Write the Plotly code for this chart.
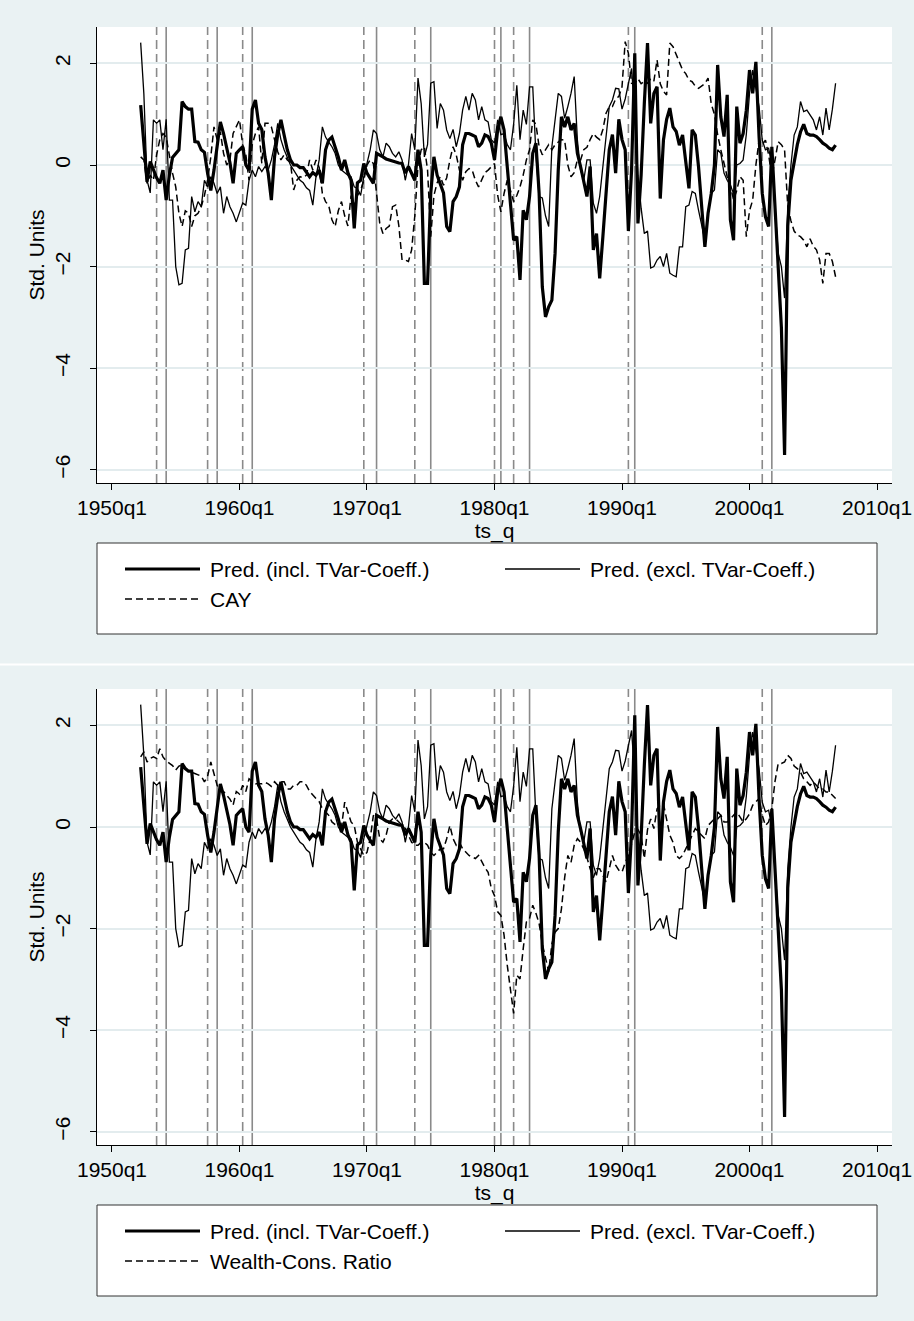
import plotly.graph_objects as go
import pandas as pd

W, H = 914, 1321

# ---------------- data (std. units, quarterly, 1952q2 - 2006q4) ----------------
START_QUARTER = "1952Q2"

PRED_INCL = [
    1.18, 0.4, -0.33, 0.07, -0.1, -0.25, -0.36, -0.1, -0.69, -0.2,
    0.15, 0.23, 0.3, 1.25, 1.15, 1.1, 1.1, 0.46, 0.45, 0.3,
    0.25, -0.16, -0.5, -0.1, 0.36, 0.85, 0.62, 0.3, 0.05, -0.36,
    0.23, 0.3, 0.36, 0.0, -0.1, 1.1, 1.28, 0.82, 0.7, 0.16,
    -0.16, -0.69, 0.16, 0.6, 0.89, 0.59, 0.3, 0.1, 0.0, 0.0,
    -0.05, -0.05, -0.15, -0.23, -0.15, -0.2, -0.1, -0.36, 0.3, 0.49,
    0.55, 0.36, 0.16, -0.1, 0.1, -0.15, -0.3, -1.25, -0.35, -0.3,
    0.03, -0.16, -0.25, -0.36, 0.23, 0.2, 0.16, 0.12, 0.1, 0.08,
    0.05, 0.04, 0.03, -0.16, -0.03, -0.15, -0.3, 0.3, -0.1, -2.33,
    -2.33, -0.56, 0.16, -0.2, -0.36, -0.55, -1.21, -1.31, -0.72, -0.62,
    -0.43, 0.4, 0.62, 0.62, 0.59, 0.56, 0.36, 0.43, 0.59, 0.56,
    0.43, 0.1, 0.7, 0.95, 0.69, -0.03, -0.8, -1.48, -1.41, -2.26,
    -0.89, -1.08, -0.62, 0.23, 0.43, -0.56, -2.4, -2.99, -2.79, -2.66,
    -1.74, -0.1, 0.95, 0.75, 0.95, 0.69, 0.82, 0.23, -0.03, -0.3,
    -0.62, -0.03, -1.67, -1.35, -2.23, -1.41, -0.5, 0.3, 0.6, -0.16,
    0.9, 0.5, 0.3, -1.3, -0.1, 2.2, -1.15, -0.2, 1.21, 2.4,
    0.82, 1.41, 1.54, -0.66, 0.49, 0.9, 1.12, 0.75, 0.66, 0.39,
    0.59, 0.1, -0.46, 0.69, 0.59, -0.03, -0.89, -1.61, -0.95, -0.56,
    0.0, 1.97, 0.95, 0.56, 1.38, -1.08, -1.48, 1.15, 0.43, 0.62,
    1.08, 1.87, 1.41, 2.03, 0.56, -0.56, -1.02, -1.21, 0.36, -0.82,
    -1.8, -3.2, -5.71, -1.2, -0.3, 0.1, 0.4, 0.65, 0.8, 0.62,
    0.59, 0.59, 0.56, 0.5, 0.43, 0.39, 0.33, 0.3, 0.39,
]

PRED_EXCL = [
    2.41, 1.4, -0.3, -0.55, 0.89, 0.82, 0.89, 0.3, 0.9, -0.69,
    -0.69, -2.0, -2.36, -2.33, -1.67, -1.64, -0.62, -0.92, -0.72, -0.82,
    -0.3, -0.43, -0.23, -0.36, -0.56, -0.43, -0.95, -0.62, -0.82, -0.95,
    -1.12, -0.95, -0.75, -0.79, -0.3, -0.1, -0.23, -0.03, -0.13, -0.03,
    -0.1, 0.1, 0.4, 0.82, 0.5, 0.3, 0.15, 0.0, -0.1, -0.2,
    -0.3, -0.35, -0.45, -0.5, -0.79, -0.23, 0.1, 0.75, 0.55, 0.45,
    0.36, 0.23, 0.0, -0.1, -0.15, -0.2, -0.23, -0.43, -0.46, -0.6,
    -0.23, 0.03, 0.3, 0.69, 0.62, 0.3, 0.16, 0.43, 0.36, 0.23,
    0.16, 0.26, 0.1, -0.3, 0.0, 0.62, 0.3, 1.71, 1.21, 0.16,
    0.4, 1.61, 1.64, 0.72, 1.21, 1.08, 0.69, 0.52, 0.7, 0.36,
    0.62, 1.08, 1.35, 1.08, 1.41, 1.28, 0.89, 1.15, 0.89, 0.85,
    0.5, 0.43, 0.89, 0.6, 0.62, 0.4, 0.3, 0.8, 1.57, 0.5,
    1.08, 0.8, 1.54, 1.54, 0.2, -0.62, -0.65, -1.0, -1.21, 0.36,
    0.9, 1.41, 1.35, 0.92, 1.15, 1.41, 1.74, 0.49, -0.1, -0.3,
    0.1, 0.1, -0.75, -0.95, -0.62, 0.0, 0.6, 1.15, 1.28, 1.51,
    1.5, 1.1, 1.3, 1.6, 1.9, 1.0, -0.2, -0.85, -1.35, -1.3,
    -2.03, -2.0, -1.87, -1.8, -2.0, -1.74, -2.13, -2.17, -2.2, -1.61,
    -1.61, -0.82, -0.79, -0.52, -0.56, -0.89, -1.21, -1.48, -0.95, -0.56,
    -0.49, 0.3, 0.23, -0.16, -0.3, -0.4, -0.56, 0.0, 0.03, 0.1,
    0.6, 1.41, 1.87, 1.54, 1.15, 0.49, 0.3, 0.33, 0.0, -0.82,
    -1.74, -2.0, -2.62, -0.82, 0.0, 0.59, 0.75, 1.25, 1.05, 1.08,
    0.98, 0.89, 0.69, 0.95, 0.59, 1.12, 0.69, 1.1, 1.61,
]

CAY = [
    0.16, 0.1, -0.36, -0.2, -0.3, 0.2, 0.5, 0.62, 0.55, 0.16,
    -0.16, -0.43, -0.95, -1.21, -0.9, -0.95, -1.21, -1.0, -0.95, -0.82,
    -0.6, -0.3, 0.16, 0.75, 0.5, 0.65, 0.23, 0.0, 0.1, 0.62,
    0.75, 0.89, 0.4, 0.2, -0.3, 0.4, 0.62, 0.75, 0.03, 0.82,
    0.82, 0.75, 0.5, 0.26, 0.1, 0.2, 0.1, 0.05, -0.49, -0.3,
    -0.23, -0.25, -0.2, 0.1, -0.1, 0.1, -0.05, -0.56, -0.72, -0.8,
    -1.08, -1.21, -0.9, -0.72, -1.0, -1.2, -0.6, -0.8, -0.6, -0.5,
    -0.3, 0.0, 0.1, 0.03, -0.56, -1.15, -1.35, -1.25, -1.2, -0.82,
    -0.79, -1.2, -1.87, -1.87, -1.9, -1.67, -1.0, 0.0, 0.3, 0.36,
    -0.1, -1.41, -0.6, -0.35, -0.23, -0.4, -0.25, 0.1, 0.36, 0.2,
    -0.1, -0.3, -0.13, -0.07, -0.1, -0.3, -0.43, -0.3, -0.15, -0.1,
    -0.03, 0.03, -0.6, -0.92, -0.56, -0.3, -0.5, -0.72, -0.6, -0.43,
    -0.2, 0.1, 0.3, 0.89, 0.8, 0.36, 0.2, 0.3, 0.4, 0.3,
    0.4, 0.45, 0.5, 0.49, 0.0, -0.23, -0.15, 0.1, 0.1, 0.3,
    0.35, 0.5, 0.62, 0.55, 0.5, 0.7, 1.02, 1.15, 1.15, 1.3,
    1.35, 1.54, 2.43, 2.2, 1.61, 1.6, 1.7, 1.6, 1.65, 1.61,
    1.7, 1.65, 2.07, 1.6, 1.45, 1.38, 2.4, 2.33, 2.17, 2.05,
    1.87, 1.8, 1.67, 1.64, 1.55, 1.51, 1.55, 1.6, 1.71, 1.2,
    1.0, 0.6, 0.3, 0.0, -0.23, -0.4, -0.69, -0.5, -0.23, -0.3,
    -1.41, -0.9, -0.69, 0.0, 0.49, 0.4, 0.49, 0.2, -0.23, 0.1,
    0.46, 0.4, 0.3, -0.82, -1.1, -1.3, -1.38, -1.41, -1.48, -1.61,
    -1.45, -1.6, -1.67, -1.87, -2.33, -1.74, -1.74, -1.9, -2.2,
]

WEALTH_CONS = [
    1.38, 1.48, 1.28, 1.35, 1.38, 1.35, 1.54, 1.38, 1.3, 1.25,
    1.21, 1.12, 1.2, 1.22, 1.15, 1.1, 1.08, 1.05, 1.02, 1.0,
    0.89, 1.0, 1.28, 1.05, 0.82, 0.7, 0.7, 0.62, 0.55, 0.43,
    0.7, 0.65, 0.82, 0.7, 0.95, 0.9, 0.85, 0.85, 0.85, 0.88,
    0.85, 0.8, 0.89, 0.82, 0.89, 0.89, 0.75, 0.75, 0.82, 0.82,
    0.89, 0.89, 0.82, 0.7, 0.62, 0.56, 0.5, 0.36, 0.3, 0.23,
    0.1, 0.05, 0.03, 0.0, 0.49, 0.3, 0.1, 0.03, -0.3, -0.43,
    -0.56, -0.5, -0.23, 0.23, 0.16, -0.23, -0.3, -0.16, 0.1, 0.16,
    0.16, 0.1, 0.03, -0.03, -0.16, -0.3, -0.36, -0.36, -0.3, -0.3,
    -0.36, -0.5, -0.56, -0.49, -0.43, -0.43, -0.23, 0.03, -0.23, -0.36,
    -0.3, -0.43, -0.5, -0.56, -0.59, -0.62, -0.56, -0.69, -0.8, -0.89,
    -1.21, -1.35, -1.67, -1.74, -2.13, -2.72, -3.25, -3.67, -2.92, -2.99,
    -2.4, -1.87, -1.8, -1.54, -1.7, -1.9, -2.3, -2.6, -2.85, -2.3,
    -2.07, -2.0, -1.61, -1.0, -0.56, -0.7, -0.36, -0.23, -0.3, -0.43,
    -0.6, -0.82, -1.0, -0.82, -0.82, -0.95, -1.08, -0.82, -0.56, -0.75,
    -0.85, -0.89, -0.7, -0.56, -0.3, -0.1, -0.05, -0.16, -0.62, -0.05,
    0.16, -0.03, 0.36, 0.43, 0.46, 0.16, -0.16, -0.3, -0.56, -0.62,
    -0.56, -0.43, -0.3, -0.16, -0.03, -0.1, -0.16, -0.23, 0.03, 0.1,
    0.16, 0.16, 0.23, 0.1, 0.1, 0.16, 0.23, 0.3, 0.2, 0.1,
    0.16, 0.26, 0.43, 0.49, 0.56, 0.23, 0.03, 0.1, 0.36, 0.9,
    1.25, 1.25, 1.28, 1.41, 1.35, 1.2, 1.15, 1.08, 0.95, 0.89,
    0.82, 0.89, 0.82, 0.75, 0.75, 0.69, 0.69, 0.62, 0.56,
]

# NBER business-cycle peaks (dashed) and troughs (solid)
PEAKS = ["1953q3", "1957q3", "1960q2", "1969q4", "1973q4", "1980q1", "1981q3", "1990q3", "2001q1"]
TROUGHS = ["1954q2", "1958q2", "1961q1", "1970q4", "1975q1", "1980q3", "1982q4", "1991q1", "2001q4"]

X_TICK_LABELS = ["1950q1", "1960q1", "1970q1", "1980q1", "1990q1", "2000q1", "2010q1"]
Y_TICKS = [-6, -4, -2, 0, 2]

LBL_INCL = "Pred. (incl. TVar-Coeff.)"
LBL_EXCL = "Pred. (excl. TVar-Coeff.)"
LBL_CAY = "CAY"
LBL_WCR = "Wealth-Cons. Ratio"


def tq(s):
    """Stata quarterly date: quarters since 1960q1."""
    s = s.lower()
    return (int(s[:4]) - 1960) * 4 + int(s[-1]) - 1


periods = pd.period_range(START_QUARTER, periods=len(PRED_INCL), freq="Q")
X = [tq(f"{p.year}q{p.quarter}") for p in periods]

# ---------------- styling ----------------
BG = "#EAF2F3"
GRID = "#E3ECEE"
FONT = "Liberation Sans, Arial, Helvetica, sans-serif"
FS = 21
REF_GRAY = "#8A8A8A"

fig = go.Figure()

PANEL_OFF = 662
PLOT_L, PLOT_R = 97, 892
PLOT_T, PLOT_B = 27, 483
X_RANGE = [-44.7, 204.7]
Y_RANGE = [-6.26, 2.717]


def py(v):  # pixel -> paper y
    return 1 - v / H


def px(v):
    return v / W


panels = [
    dict(xa="x", ya="y", third=CAY, third_lbl=LBL_CAY, off=0),
    dict(xa="x2", ya="y2", third=WEALTH_CONS, third_lbl=LBL_WCR, off=PANEL_OFF),
]

shapes = []
annotations = []

for i, p in enumerate(panels):
    off = p["off"]
    fig.add_trace(go.Scatter(x=X, y=p["third"], mode="lines", name=p["third_lbl"],
                             line=dict(color="black", width=1.5, dash="7px,4px"),
                             xaxis=p["xa"], yaxis=p["ya"], showlegend=False))
    fig.add_trace(go.Scatter(x=X, y=PRED_EXCL, mode="lines", name=LBL_EXCL,
                             line=dict(color="black", width=1.3),
                             xaxis=p["xa"], yaxis=p["ya"], showlegend=False))
    fig.add_trace(go.Scatter(x=X, y=PRED_INCL, mode="lines", name=LBL_INCL,
                             line=dict(color="black", width=3.2),
                             xaxis=p["xa"], yaxis=p["ya"], showlegend=False))

    # recession reference lines
    for d in PEAKS:
        shapes.append(dict(type="line", xref=p["xa"], yref="paper",
                           x0=tq(d), x1=tq(d), y0=py(PLOT_B + off), y1=py(PLOT_T + off), layer="below",
                           line=dict(color=REF_GRAY, width=1.6, dash="9px,5px")))
    for d in TROUGHS:
        shapes.append(dict(type="line", xref=p["xa"], yref="paper",
                           x0=tq(d), x1=tq(d), y0=py(PLOT_B + off), y1=py(PLOT_T + off), layer="below",
                           line=dict(color=REF_GRAY, width=1.6)))

    # legend box (drawn)
    bt, bb = 543 + off, 634 + off
    bl, br = 97, 877
    shapes.append(dict(type="rect", xref="paper", yref="paper",
                       x0=px(bl), x1=px(br), y0=py(bb), y1=py(bt),
                       fillcolor="white", line=dict(color="#333333", width=1), layer="above"))
    r1, r2 = 569 + off, 599 + off
    items = [
        (125, r1, dict(color="black", width=3.2), LBL_INCL),
        (505, r1, dict(color="black", width=1.3), LBL_EXCL),
        (125, r2, dict(color="black", width=1.5, dash="7px,4px"), p["third_lbl"]),
    ]
    for x0, yy, ln, lbl in items:
        shapes.append(dict(type="line", xref="paper", yref="paper",
                           x0=px(x0), x1=px(x0 + 75), y0=py(yy), y1=py(yy),
                           line=ln, layer="above"))
        annotations.append(dict(xref="paper", yref="paper", x=px(x0 + 83), y=py(yy),
                                text=lbl, showarrow=False, xanchor="left", yanchor="middle",
                                font=dict(family=FONT, size=FS, color="black")))

# white separator between the two graphs
shapes.append(dict(type="rect", xref="paper", yref="paper", x0=0, x1=1,
                   y0=py(665.5), y1=py(663.5), fillcolor="white", line=dict(width=0), layer="above"))

axis_common = dict(showline=True, linecolor="black", linewidth=1, ticks="outside",
                   ticklen=6, tickcolor="black", zeroline=False, automargin=False,
                   tickfont=dict(family=FONT, size=FS, color="black"))

layout = dict(
    width=W, height=H, margin=dict(l=0, r=0, t=0, b=0, autoexpand=False),
    paper_bgcolor=BG, plot_bgcolor="white", showlegend=False,
    shapes=shapes, annotations=annotations,
    font=dict(family=FONT, size=FS, color="black"),
)

for i, p in enumerate(panels):
    off = p["off"]
    xk = "xaxis" if i == 0 else "xaxis2"
    yk = "yaxis" if i == 0 else "yaxis2"
    layout[xk] = dict(axis_common, domain=[px(PLOT_L), px(PLOT_R)], range=X_RANGE,
                      anchor=p["ya"], showgrid=False,
                      tickvals=[tq(s) for s in X_TICK_LABELS], ticktext=X_TICK_LABELS,
                      title=dict(text="ts_q", font=dict(family=FONT, size=FS), standoff=3))
    layout[yk] = dict(axis_common, domain=[py(PLOT_B + off), py(PLOT_T + off)], range=Y_RANGE,
                      anchor=p["xa"], showgrid=True, gridcolor=GRID, gridwidth=1.5,
                      tickvals=Y_TICKS, tickangle=-90, ticklabelstandoff=12,
                      title=dict(text="Std. Units", font=dict(family=FONT, size=FS), standoff=0))

fig.update_layout(**layout)
fig.write_html("out.html", config={"displayModeBar": False},
               post_script="document.body.style.margin='0';document.body.style.overflow='hidden';")
